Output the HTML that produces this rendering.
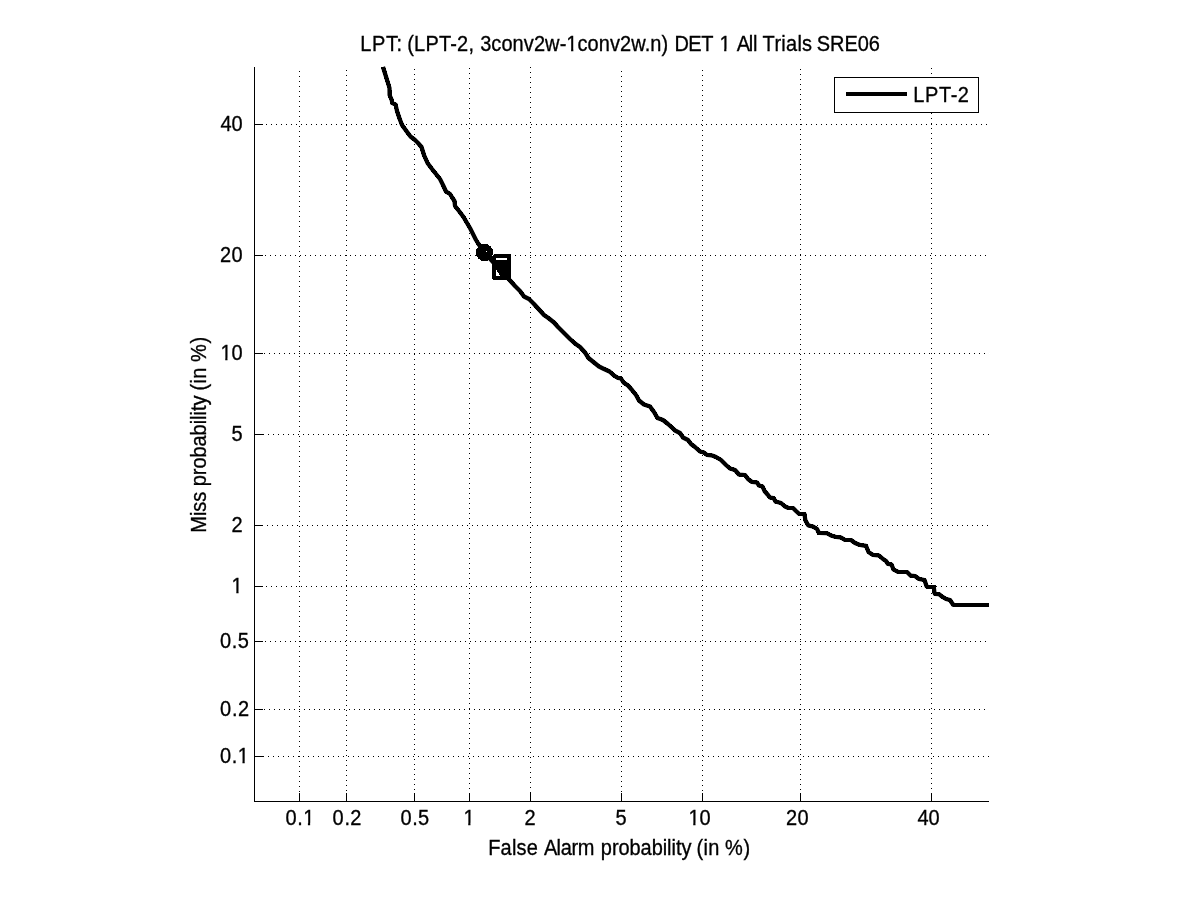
<!DOCTYPE html>
<html lang="en"><head><meta charset="utf-8"><title>LPT: (LPT-2, 3conv2w-1conv2w.n) DET 1 All Trials SRE06</title>
<style>
html,body{margin:0;padding:0;background:#fff;}
body{width:1201px;height:900px;overflow:hidden;}
svg{display:block;}
text{font-family:"Liberation Sans",sans-serif;font-size:20px;fill:#000;stroke:#000;stroke-width:0.3px;}
.ax{stroke:#000;stroke-width:1;fill:none;shape-rendering:crispEdges;}
.gr{stroke:#000;stroke-width:1;fill:none;stroke-dasharray:1 4;shape-rendering:crispEdges;}
.cv{stroke:#000;stroke-width:4;fill:none;stroke-linejoin:miter;stroke-miterlimit:3;stroke-linecap:butt;shape-rendering:crispEdges;}
</style></head><body>
<svg width="1201" height="900" viewBox="0 0 1201 900">
<rect x="0" y="0" width="1201" height="900" fill="#fff"/>

<g class="gr">
<line x1="299.5" y1="71" x2="299.5" y2="793"/>
<line x1="346.5" y1="70" x2="346.5" y2="793"/>
<line x1="414.5" y1="69" x2="414.5" y2="793"/>
<line x1="469.5" y1="68" x2="469.5" y2="793"/>
<line x1="530.5" y1="67" x2="530.5" y2="793"/>
<line x1="621.5" y1="71" x2="621.5" y2="793"/>
<line x1="702.5" y1="70" x2="702.5" y2="793"/>
<line x1="800.5" y1="69" x2="800.5" y2="793"/>
<line x1="931.5" y1="68" x2="931.5" y2="793"/>
<line x1="263" y1="756.5" x2="989" y2="756.5"/>
<line x1="264" y1="709.5" x2="989" y2="709.5"/>
<line x1="265" y1="641.5" x2="989" y2="641.5"/>
<line x1="266" y1="586.5" x2="989" y2="586.5"/>
<line x1="267" y1="525.5" x2="989" y2="525.5"/>
<line x1="263" y1="434.5" x2="989" y2="434.5"/>
<line x1="264" y1="353.5" x2="989" y2="353.5"/>
<line x1="265" y1="255.5" x2="989" y2="255.5"/>
<line x1="266" y1="124.5" x2="989" y2="124.5"/>
</g>
<g class="ax">
<line x1="254.5" y1="67" x2="254.5" y2="802"/>
<line x1="254" y1="801.5" x2="989" y2="801.5"/>
<line x1="299.5" y1="793" x2="299.5" y2="801"/>
<line x1="255" y1="756.5" x2="263" y2="756.5"/>
<line x1="346.5" y1="793" x2="346.5" y2="801"/>
<line x1="255" y1="709.5" x2="263" y2="709.5"/>
<line x1="414.5" y1="793" x2="414.5" y2="801"/>
<line x1="255" y1="641.5" x2="263" y2="641.5"/>
<line x1="469.5" y1="793" x2="469.5" y2="801"/>
<line x1="255" y1="586.5" x2="263" y2="586.5"/>
<line x1="530.5" y1="793" x2="530.5" y2="801"/>
<line x1="255" y1="525.5" x2="263" y2="525.5"/>
<line x1="621.5" y1="793" x2="621.5" y2="801"/>
<line x1="255" y1="434.5" x2="263" y2="434.5"/>
<line x1="702.5" y1="793" x2="702.5" y2="801"/>
<line x1="255" y1="353.5" x2="263" y2="353.5"/>
<line x1="800.5" y1="793" x2="800.5" y2="801"/>
<line x1="255" y1="255.5" x2="263" y2="255.5"/>
<line x1="931.5" y1="793" x2="931.5" y2="801"/>
<line x1="255" y1="124.5" x2="263" y2="124.5"/>
</g>
<text transform="translate(0,825) scale(1,1.07)" x="285.5 297.26 303.15" y="0">0.1</text><g transform="translate(0,825) scale(1,1.07)" fill="#fff"><rect x="303.35" y="-1.95" width="4.55" height="3.9"/><rect x="310.15" y="-1.95" width="4.6" height="3.9"/></g>
<text transform="translate(0,825) scale(1,1.07)" x="332.5 344.41 350.37" y="0">0.2</text>
<text transform="translate(0,825) scale(1,1.07)" x="400.5 412.24 418.12" y="0">0.5</text>
<text transform="translate(0,825) scale(1,1.07)" x="463.46" y="0">1</text><g transform="translate(0,825) scale(1,1.07)" fill="#fff"><rect x="463.66" y="-1.95" width="4.55" height="3.9"/><rect x="470.46" y="-1.95" width="4.6" height="3.9"/></g>
<text transform="translate(0,825) scale(1,1.07)" x="524.5" y="0">2</text>
<text transform="translate(0,825) scale(1,1.07)" x="615.5" y="0">5</text>
<text transform="translate(0,825) scale(1,1.07)" x="688.5 699.61" y="0">10</text><g transform="translate(0,825) scale(1,1.07)" fill="#fff"><rect x="688.7" y="-1.95" width="4.55" height="3.9"/><rect x="695.5" y="-1.95" width="4.6" height="3.9"/></g>
<text transform="translate(0,825) scale(1,1.07)" x="786 797.61" y="0">20</text>
<text transform="translate(0,825) scale(1,1.07)" x="917.5 928.61" y="0">40</text>
<text transform="translate(0,763) scale(1,1.07)" x="220.05 231.81 237.7" y="0">0.1</text><g transform="translate(0,763) scale(1,1.07)" fill="#fff"><rect x="237.9" y="-1.95" width="4.55" height="3.9"/><rect x="244.7" y="-1.95" width="4.6" height="3.9"/></g>
<text transform="translate(0,716) scale(1,1.07)" x="220.05 232.03 238.02" y="0">0.2</text>
<text transform="translate(0,648) scale(1,1.07)" x="220.05 231.86 237.77" y="0">0.5</text>
<text transform="translate(0,593) scale(1,1.07)" x="231.56" y="0">1</text><g transform="translate(0,593) scale(1,1.07)" fill="#fff"><rect x="231.76" y="-1.95" width="4.55" height="3.9"/><rect x="238.56" y="-1.95" width="4.6" height="3.9"/></g>
<text transform="translate(0,532) scale(1,1.07)" x="231.6" y="0">2</text>
<text transform="translate(0,441) scale(1,1.07)" x="231.6" y="0">5</text>
<text transform="translate(0,360) scale(1,1.07)" x="220.5 231.61" y="0">10</text><g transform="translate(0,360) scale(1,1.07)" fill="#fff"><rect x="220.7" y="-1.95" width="4.55" height="3.9"/><rect x="227.5" y="-1.95" width="4.6" height="3.9"/></g>
<text transform="translate(0,262) scale(1,1.07)" x="220 231.61" y="0">20</text>
<text transform="translate(0,131) scale(1,1.07)" x="220.5 231.61" y="0">40</text>
<text transform="translate(0,51) scale(1,1.07)" x="360.35 371.98 385.94 396.4 401.97 407.35 414.13 425.44 438.99 450.3 457.07 468.38 473.93 480.15 491.35 501.42 512.62 523.83 533.9 545.08 559.64 566.34 577.54 587.61 598.81 610.01 620.08 631.29 644.71 650.31 661.51 668.17 674.45 688.34 701.18 713.04 719.41 730.54 736.8 748.87 752.88 757.33 762.6 774.46 781.36 785.95 797.45 802.04 812.04 816.8 830.07 844.42 857.69 868.75" y="0">LPT: (LPT-2, 3conv2w-1conv2w.n) DET 1 All Trials SRE06</text><g transform="translate(0,51) scale(1,1.07)" fill="#fff"><rect x="566.54" y="-1.95" width="4.55" height="3.9"/><rect x="573.34" y="-1.95" width="4.6" height="3.9"/></g><g transform="translate(0,51) scale(1,1.07)" fill="#fff"><rect x="719.61" y="-1.95" width="4.55" height="3.9"/><rect x="726.41" y="-1.95" width="4.6" height="3.9"/></g>
<text transform="translate(0,855) scale(1,1.07)" x="488.15 500.6 511.94 516.48 526.68 537.81 543.9 556.59 560.83 571.42 577.76 594.42 600.85 611.9 618.51 629.56 640.61 651.64 662.69 667.12 671.52 675.93 681.46 691.46 696.55 703.54 708.19 719.32 724.95 743.53" y="0">False Alarm probability (in %)</text>
<text transform="translate(206,0) rotate(-90) scale(1,1.07)" x="-532.75 -516.12 -511.69 -501.71 -491.71 -486.25 -475.19 -468.57 -457.5 -446.44 -435.38 -424.33 -419.9 -415.49 -411.06 -405.54 -395.54 -390.45 -383.46 -378.81 -367.68 -362.05 -343.47" y="0">Miss probability (in %)</text>
<polyline class="cv" points="383,67 385.5,75 388.3,84 389.5,88 389.6,95 391.7,100 392.4,103.2 395.6,104.6 397,111 399.7,119 402,125 406,130.5 410.5,136.5 415,140 418,143 421.5,147 424,155 427.5,163 432,169 436,174 440,179 443,185 446,191.5 450,194 452.5,198 454.5,201 455,206 459,211 463.5,217 467,223 470,228 473,234 476,240 478.5,244 484.5,252.5 493,262 510.5,281 515,286 520,291 524,296.5 529,299 534,304 539,309.5 544,315 549,318.5 554,322.5 558,327 564,333 570,339 575,343.5 580,347 585,352.5 588.5,358 594,362.5 599,366.5 604,369 609.5,371.5 614,375.5 618,378 621,378.5 623.5,382.5 628,385.5 632,390 636,395 639,400.5 644,404.5 650,406.5 654,412 657.5,418 663,420 668,424 673,428.5 675,430.5 680,433 683,437.5 688,440 691,444 695,447 700,451.5 704,452.5 707,455 712,455.5 716,457 721,460 726,465 730,468.5 735,470 739,474.5 745,475 748,479 752,482 757,482.5 759,485.5 762.5,486.5 764.5,491 768,495 770,497.5 773.5,498 775.5,501.5 781,503 785,506.5 788,507.8 793,508 796,511 799,513.8 804.5,514 805.3,520 808,525 810,526 813,526.5 817,529 819,533 827,533.2 831,535.5 836,537 841,537.5 845,540 851,540 855,543 860,545 866,545.8 868.5,552 873,555 879,555.5 883,559 886,561 888,564 891.5,564.5 893.5,569.5 898,571.8 907,572 910.5,575.5 915,576 919,579 924.5,580 926.5,586 927.5,586.8 933.8,587 934.5,593 935,593.8 939,594.2 942,596.5 946,599 950,600 953,604.5 954,605 989,605"/>
<polyline points="383,67 385.5,75 388.3,84 389.5,88 389.6,95 391.7,100 392.4,103.2 395.6,104.6 397,111 399.7,119 402,125 406,130.5 410.5,136.5 415,140 418,143 421.5,147 424,155 427.5,163 432,169 436,174 440,179 443,185 446,191.5 450,194 452.5,198 454.5,201 455,206 459,211 463.5,217 467,223 470,228 473,234 476,240 478.5,244 484.5,252.5 493,262 510.5,281 515,286 520,291 524,296.5 529,299 534,304 539,309.5 544,315 549,318.5 554,322.5 558,327 564,333 570,339 575,343.5 580,347 585,352.5 588.5,358 594,362.5 599,366.5 604,369 609.5,371.5 614,375.5 618,378 621,378.5 623.5,382.5 628,385.5 632,390 636,395 639,400.5 644,404.5 650,406.5 654,412 657.5,418 663,420 668,424 673,428.5 675,430.5 680,433 683,437.5 688,440 691,444 695,447 700,451.5 704,452.5 707,455 712,455.5 716,457 721,460 726,465 730,468.5 735,470 739,474.5 745,475 748,479 752,482 757,482.5 759,485.5 762.5,486.5 764.5,491 768,495 770,497.5 773.5,498 775.5,501.5 781,503 785,506.5 788,507.8 793,508 796,511 799,513.8 804.5,514 805.3,520 808,525 810,526 813,526.5 817,529 819,533 827,533.2 831,535.5 836,537 841,537.5 845,540 851,540 855,543 860,545 866,545.8 868.5,552 873,555 879,555.5 883,559 886,561 888,564 891.5,564.5 893.5,569.5 898,571.8 907,572 910.5,575.5 915,576 919,579 924.5,580 926.5,586 927.5,586.8 933.8,587 934.5,593 935,593.8 939,594.2 942,596.5 946,599 950,600 953,604.5 954,605 989,605" fill="none" stroke="#000" stroke-width="4.2" stroke-linejoin="round"/>
<circle cx="484.5" cy="252.5" r="8.6" fill="#000" shape-rendering="crispEdges"/>
<rect x="486" y="251" width="1" height="1" fill="#fff" shape-rendering="crispEdges"/>
<g shape-rendering="crispEdges"><path d="M494 254 L510 254 L511 255 L511 280 L494 280 L492 279 L492 256 Z" fill="#000"/>
<rect x="496" y="258" width="11" height="2" fill="#fff"/>
<path d="M496 269.5 L496 276 L500.2 276 Z" fill="#fff"/></g>
<g shape-rendering="crispEdges"><rect x="834.5" y="77.5" width="144" height="35" fill="#fff" stroke="#000" stroke-width="1"/>
<line x1="846" y1="94" x2="907" y2="94" stroke="#000" stroke-width="4"/></g>
<text transform="translate(0,102) scale(1,1.07)" x="913.25 924.94 938.98 950.66 957.68" y="0">LPT-2</text>
</svg></body></html>
